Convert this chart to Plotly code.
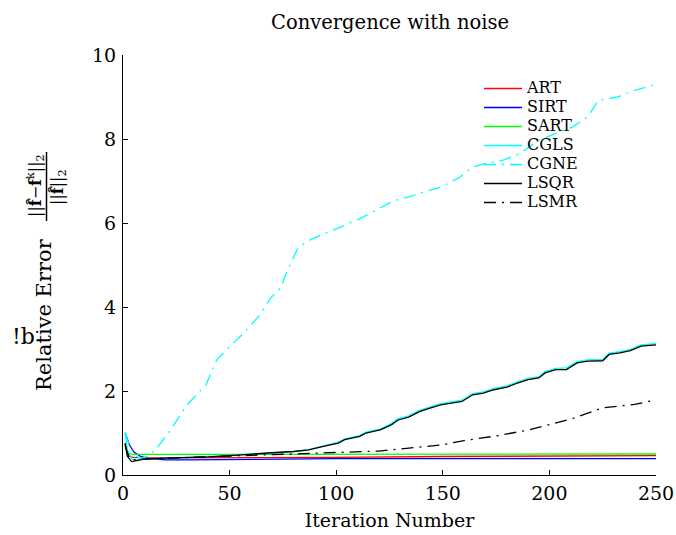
import plotly.graph_objects as go

# ---- data ----
art_it = [1, 2, 3, 5, 10, 20, 50, 100, 150, 200, 250]
art_val = [0.75, 0.52, 0.44, 0.42, 0.41, 0.41, 0.41, 0.42, 0.44, 0.45, 0.46]

sirt_it = [1, 3, 5, 8, 12, 20, 30, 50, 100, 150, 200, 250]
sirt_val = [1.0, 0.72, 0.55, 0.45, 0.39, 0.36, 0.36, 0.37, 0.39, 0.39, 0.39, 0.39]

sart_it = [1, 2, 3, 5, 10, 50, 100, 150, 200, 250]
sart_val = [0.7, 0.55, 0.5, 0.49, 0.49, 0.49, 0.5, 0.5, 0.5, 0.5]

lsqr_it = [1, 2, 4, 6, 10, 20, 30, 40, 50, 60, 70, 80, 87, 94, 101, 104, 111, 114,
           121, 126, 129, 134, 139, 144, 149, 154, 159, 164, 169, 174, 180, 185, 190,
           195, 198, 203, 208, 213, 218, 225, 228, 233, 238, 243, 250]
lsqr_val = [0.76, 0.45, 0.32, 0.34, 0.38, 0.40, 0.41, 0.43, 0.46, 0.50, 0.53, 0.56,
            0.60, 0.68, 0.76, 0.84, 0.92, 1.0, 1.08, 1.2, 1.31, 1.38, 1.51, 1.59,
            1.67, 1.71, 1.75, 1.91, 1.95, 2.03, 2.09, 2.19, 2.27, 2.31, 2.43, 2.51,
            2.51, 2.67, 2.71, 2.72, 2.87, 2.91, 2.96, 3.07, 3.10]

cgls_it = lsqr_it
cgls_val = [1.03, 0.6, 0.38, 0.36, 0.38, 0.40, 0.41, 0.43, 0.46, 0.50, 0.53, 0.56,
            0.60, 0.69, 0.78, 0.86, 0.94, 1.02, 1.10, 1.23, 1.34, 1.41, 1.54, 1.62,
            1.70, 1.74, 1.78, 1.94, 1.98, 2.06, 2.12, 2.22, 2.30, 2.34, 2.47, 2.54,
            2.55, 2.70, 2.74, 2.75, 2.90, 2.94, 2.99, 3.10, 3.13]

cgne_it = [1, 3, 5, 7, 9, 12, 16, 22, 30, 39, 44, 49, 57, 64, 69, 74, 77, 82, 87, 94,
           102, 111, 121, 127, 136, 143, 149, 158, 164, 169, 178, 186, 195, 203, 211,
           218, 223, 232, 240, 250]
cgne_val = [1.0, 0.7, 0.5, 0.42, 0.4, 0.45, 0.65, 1.05, 1.67, 2.15, 2.75, 3.0, 3.4,
            3.8, 4.2, 4.46, 4.86, 5.4, 5.58, 5.74, 5.9, 6.1, 6.37, 6.53, 6.65, 6.77,
            6.85, 7.09, 7.33, 7.41, 7.49, 7.65, 7.97, 8.13, 8.29, 8.53, 8.92, 9.0,
            9.16, 9.3]

lsmr_it = [1, 3, 5, 10, 20, 50, 75, 100, 120, 150, 160, 175, 190, 200, 210, 225, 240, 250]
lsmr_val = [0.7, 0.4, 0.36, 0.38, 0.40, 0.45, 0.48, 0.52, 0.57, 0.72, 0.82, 0.93,
            1.07, 1.2, 1.33, 1.6, 1.68, 1.79]

x_ticks = [0, 50, 100, 150, 200, 250]
y_ticks = [0, 2, 4, 6, 8, 10]

FONT = "DejaVu Serif"
DASHDOT = "12px,6px,2px,6px"

series = [
    ("ART", art_it, art_val, "#ff0000", "solid"),
    ("SIRT", sirt_it, sirt_val, "#0000ff", "solid"),
    ("SART", sart_it, sart_val, "#00ff00", "solid"),
    ("CGLS", cgls_it, cgls_val, "#00ffff", "solid"),
    ("CGNE", cgne_it, cgne_val, "#00ffff", DASHDOT),
    ("LSQR", lsqr_it, lsqr_val, "#000000", "solid"),
    ("LSMR", lsmr_it, lsmr_val, "#000000", DASHDOT),
]

fig = go.Figure()
for name, xs, ys, col, dash in series:
    fig.add_trace(go.Scatter(
        x=xs, y=ys, mode="lines",
        name='<span style="font-size:16px">%s</span>' % name,
        line=dict(color=col, width=1.3, dash=dash),
    ))

L, R, T, B = 123, 20, 55, 60
W, H = 676, 535
pw, ph = W - L - R, H - T - B


def px(xpix):
    return (xpix - L) / pw


def py(ypix):
    return (H - B - ypix) / ph


fig.update_layout(
    width=W, height=H,
    margin=dict(l=L, r=R, t=T, b=B, autoexpand=False),
    paper_bgcolor="white", plot_bgcolor="white",
    font=dict(family=FONT, color="black", size=19),
    title=dict(text="Convergence with noise", xref="container", x=390 / W,
               xanchor="center", yref="container", y=1 - 22 / H, yanchor="middle",
               font=dict(size=19.5, family=FONT)),
    showlegend=True,
    legend=dict(x=px(479), y=py(74), xanchor="left", yanchor="top",
                bgcolor="rgba(0,0,0,0)", borderwidth=0, itemwidth=38,
                font=dict(size=12, family=FONT), tracegroupgap=0),
    xaxis=dict(range=[0, 250], tickvals=x_ticks, ticks="inside", ticklen=5,
               tickcolor="black", showline=True, linecolor="black", linewidth=1,
               showgrid=False, zeroline=False, mirror=False,
               tickfont=dict(size=19, family=FONT), ticklabelstandoff=1,
               title=dict(text="Iteration Number", standoff=10,
                          font=dict(size=19, family=FONT))),
    yaxis=dict(range=[0, 10], tickvals=y_ticks, ticks="inside", ticklen=5,
               tickcolor="black", showline=True, linecolor="black", linewidth=1,
               showgrid=False, zeroline=False, mirror=False,
               tickfont=dict(size=19, family=FONT), ticklabelstandoff=2),
)

# y-axis label pieces
fig.add_annotation(text="Relative Error", textangle=-90, xref="paper", yref="paper",
                   x=px(44), y=py(315), xanchor="center", yanchor="middle",
                   showarrow=False, font=dict(size=21, family=FONT))
fig.add_annotation(text="!b", xref="paper", yref="paper",
                   x=px(23), y=py(336), xanchor="center", yanchor="middle",
                   showarrow=False, font=dict(size=22, family=FONT))
fig.add_annotation(text="||<b>f&#770;</b>\u2212<b>f</b><sup>k</sup>||<sub>2</sub>",
                   textangle=-90, xref="paper", yref="paper",
                   x=px(35), y=py(186), xanchor="center", yanchor="middle",
                   showarrow=False, font=dict(size=16, family=FONT))
fig.add_annotation(text="||<b>f&#770;</b>||<sub>2</sub>",
                   textangle=-90, xref="paper", yref="paper",
                   x=px(58), y=py(187), xanchor="center", yanchor="middle",
                   showarrow=False, font=dict(size=16, family=FONT))
fig.add_shape(type="line", xref="paper", yref="paper",
              x0=px(46.5), x1=px(46.5), y0=py(152), y1=py(221),
              line=dict(color="black", width=1.5))

fig.write_html("out.html", config={"displayModeBar": False},
               post_script="document.body.style.margin='0px';")
